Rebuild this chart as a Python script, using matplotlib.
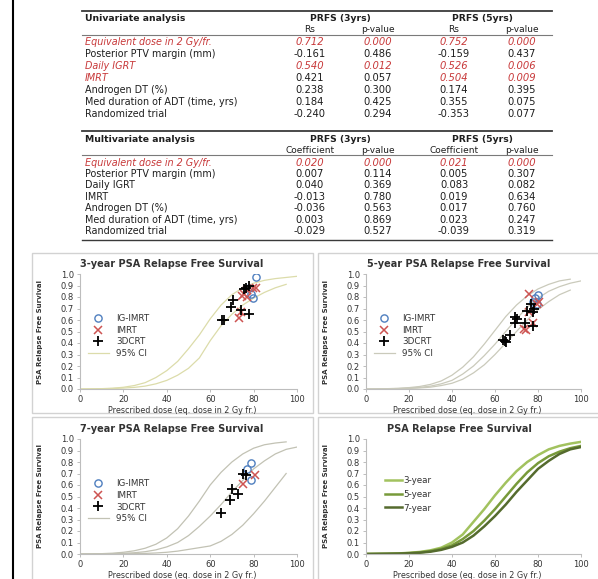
import matplotlib
matplotlib.use("Agg")
import matplotlib.pyplot as plt
from matplotlib.lines import Line2D
from matplotlib.patches import Rectangle

W, H = 598, 579

## table data
row_labels = ["Equivalent dose in 2 Gy/fr.", "Posterior PTV margin (mm)", "Daily IGRT", "IMRT",
              "Androgen DT (%)", "Med duration of ADT (time, yrs)", "Randomized trial"]
uni_rs3 = ["0.712", "-0.161", "0.540", "0.421", "0.238", "0.184", "-0.240"]
uni_p3 = ["0.000", "0.486", "0.012", "0.057", "0.300", "0.425", "0.294"]
uni_rs5 = ["0.752", "-0.159", "0.526", "0.504", "0.174", "0.355", "-0.353"]
uni_p5 = ["0.000", "0.437", "0.006", "0.009", "0.395", "0.075", "0.077"]
uni_sig3 = [1, 0, 1, 0, 0, 0, 0]
uni_sig5 = [1, 0, 1, 1, 0, 0, 0]

multi_c3 = ["0.020", "0.007", "0.040", "-0.013", "-0.036", "0.003", "-0.029"]
multi_p3 = ["0.000", "0.114", "0.369", "0.780", "0.563", "0.869", "0.527"]
multi_c5 = ["0.021", "0.005", "0.083", "0.019", "0.017", "0.023", "-0.039"]
multi_p5 = ["0.000", "0.307", "0.082", "0.634", "0.760", "0.247", "0.319"]
multi_sig3 = [1, 0, 0, 0, 0, 0, 0]
multi_sig5 = [1, 0, 0, 0, 0, 0, 0]

## curve data
dose = [0, 5, 10, 15, 20, 25, 30, 35, 40, 45, 50, 55, 60, 65, 70, 75, 80, 85, 90, 95, 100]
fit3 = [0.0, 0.001, 0.002, 0.005, 0.010, 0.018, 0.032, 0.055, 0.10, 0.17, 0.28, 0.39, 0.51,
        0.62, 0.72, 0.80, 0.86, 0.91, 0.94, 0.96, 0.975]
fit5 = [0.0, 0.001, 0.002, 0.004, 0.008, 0.014, 0.025, 0.045, 0.075, 0.13, 0.20, 0.29, 0.39,
        0.50, 0.61, 0.71, 0.79, 0.85, 0.89, 0.92, 0.94]
fit7 = [0.0, 0.001, 0.002, 0.003, 0.006, 0.011, 0.020, 0.036, 0.062, 0.10, 0.16, 0.24, 0.33,
        0.43, 0.54, 0.64, 0.74, 0.81, 0.87, 0.91, 0.93]
hi3 = [0.0, 0.001, 0.003, 0.007, 0.015, 0.030, 0.055, 0.10, 0.16, 0.24, 0.35, 0.47, 0.61,
       0.73, 0.82, 0.88, 0.92, 0.945, 0.96, 0.97, 0.98]
lo3 = [0.0, 0.001, 0.002, 0.004, 0.008, 0.014, 0.025, 0.045, 0.075, 0.12, 0.18, 0.27, 0.42,
       0.55, 0.65, 0.73, 0.79, 0.84, 0.88, 0.91]
hi5 = [0.0, 0.001, 0.003, 0.006, 0.012, 0.022, 0.040, 0.070, 0.12, 0.19, 0.28, 0.39, 0.51,
       0.63, 0.73, 0.81, 0.87, 0.91, 0.94, 0.955]
lo5 = [0.0, 0.0, 0.001, 0.002, 0.005, 0.009, 0.016, 0.030, 0.050, 0.085, 0.14, 0.21, 0.30,
       0.40, 0.50, 0.60, 0.69, 0.76, 0.82, 0.86]
hi7 = [0.0, 0.001, 0.003, 0.007, 0.015, 0.028, 0.05, 0.085, 0.14, 0.22, 0.33, 0.46, 0.60,
       0.71, 0.80, 0.87, 0.92, 0.95, 0.965, 0.975]
lo7 = [0.0, 0.0, 0.0, 0.001, 0.002, 0.003, 0.005, 0.009, 0.015, 0.025, 0.04, 0.055, 0.07,
       0.11, 0.17, 0.25, 0.35, 0.46, 0.58, 0.70]

## scatter data: (dose, PRFS)
ig3_x = [81, 78, 79, 79.5]
ig3_y = [0.97, 0.88, 0.83, 0.79]
im3_x = [74.5, 75.5, 77, 79.5, 81, 74, 73.5, 77]
im3_y = [0.81, 0.83, 0.86, 0.88, 0.88, 0.67, 0.62, 0.80]
cr3_x = [78, 76.5, 75.5, 70.5, 69.5, 74, 78, 66.5, 65.5]
cr3_y = [0.90, 0.88, 0.87, 0.77, 0.71, 0.69, 0.65, 0.60, 0.60]

ig5_x = [80, 78.5, 77.5, 79.5]
ig5_y = [0.82, 0.79, 0.76, 0.74]
im5_x = [75.8, 80.6, 79.4, 75.8, 77.7, 74.2, 73.4]
im5_y = [0.83, 0.76, 0.74, 0.67, 0.57, 0.51, 0.52]
cr5_x = [76.6, 78.2, 75, 77.6, 69.4, 70.2, 69.4, 73.9, 77.6, 66.9, 63.5, 65.3, 64.5]
cr5_y = [0.74, 0.70, 0.675, 0.67, 0.63, 0.61, 0.57, 0.57, 0.55, 0.47, 0.43, 0.41, 0.42]

ig7_x = [79, 77, 79]
ig7_y = [0.79, 0.74, 0.64]
im7_x = [80.5, 75]
im7_y = [0.69, 0.61]
cr7_x = [75, 76.5, 70, 73, 69, 65]
cr7_y = [0.70, 0.69, 0.565, 0.52, 0.47, 0.355]

RED = '#c8393a'
DARK = '#1e1e1e'

fig = plt.figure(figsize=(W / 100, H / 100), dpi=100)


def fx(x):
    return x / W


def fy(y):
    return 1 - y / H


def hline(y, x0, x1, lw, color):
    fig.add_artist(Line2D([fx(x0), fx(x1)], [fy(y), fy(y)], lw=lw, color=color))


# left border line
fig.add_artist(Line2D([fx(12.5), fx(12.5)], [0, 1], lw=1.5, color='black'))

cols = [310, 378, 454, 522]


def draw_table(top, title, subs, values, sig3, sig5, head_y, sub_y, sep_y, row0, dy, bottom=None):
    hline(top, 82, 552, 1.3, '#3a3a3a')
    fig.text(fx(85), fy(head_y), title, fontsize=6.7, weight='bold', va='center', color=DARK)
    fig.text(fx(340), fy(head_y), "PRFS (3yrs)", fontsize=6.7, weight='bold', va='center', ha='center', color=DARK)
    fig.text(fx(482), fy(head_y), "PRFS (5yrs)", fontsize=6.7, weight='bold', va='center', ha='center', color=DARK)
    for cx, s in zip(cols, subs):
        fig.text(fx(cx), fy(sub_y), s, fontsize=6.5, va='center', ha='center', color=DARK)
    hline(sep_y, 82, 552, 0.8, '#7a7a7a')
    for i, lab in enumerate(row_labels):
        y = fy(row0 + i * dy)
        red = sig3[i] or sig5[i]
        fig.text(fx(85), y, lab, fontsize=6.9, va='center', color=RED if red else DARK,
                 style='italic' if red else 'normal')
        for j, cx in enumerate(cols):
            s = sig3[i] if j < 2 else sig5[i]
            fig.text(fx(cx), y, values[j][i], fontsize=7.2, va='center', ha='center',
                     color=RED if s else DARK, style='italic' if s else 'normal')
    if bottom is not None:
        hline(bottom, 82, 552, 1.0, '#3a3a3a')


draw_table(10.5, "Univariate analysis", ["Rs", "p-value", "Rs", "p-value"],
           [uni_rs3, uni_p3, uni_rs5, uni_p5], uni_sig3, uni_sig5,
           18.5, 30, 34.5, 42, 11.93)
draw_table(130.5, "Multivariate analysis", ["Coefficient", "p-value", "Coefficient", "p-value"],
           [multi_c3, multi_p3, multi_c5, multi_p5], multi_sig3, multi_sig5,
           139.5, 150.5, 155.5, 162.5, 11.45, bottom=240)

# panel frames
for (x0, y0, x1, y1) in [(32, 253, 313, 413), (318, 253, 600, 413),
                         (32, 417, 313, 582), (318, 417, 600, 582)]:
    fig.add_artist(Rectangle((fx(x0), fy(y1)), fx(x1 - x0), (y1 - y0) / H,
                             facecolor='white', edgecolor='#d2d2d2', lw=1.0, zorder=0))

boxes = [(80, 297, 274, 389), (366, 581, 274, 389), (80, 297, 439, 554), (366, 581, 439, 554)]
titles = ["3-year PSA Relapse Free Survival", "5-year PSA Relapse Free Survival",
          "7-year PSA Relapse Free Survival", "PSA Relapse Free Survival"]
title_pos = [(172, 264), (459, 264), (172, 429), (459, 429)]

axes = []
for (x0, x1, yt, yb), t, (tx, ty) in zip(boxes, titles, title_pos):
    ax = fig.add_axes([fx(x0), fy(yb), (x1 - x0) / W, (yb - yt) / H])
    ax.patch.set_visible(False)
    ax.set_xlim(0, 100)
    ax.set_ylim(0, 1.0)
    ax.set_xticks([0, 20, 40, 60, 80, 100])
    ax.set_yticks([i / 10 for i in range(11)])
    ax.set_yticklabels(["%.1f" % (i / 10) for i in range(11)])
    for sp in ['top', 'right']:
        ax.spines[sp].set_visible(False)
    for sp in ['left', 'bottom']:
        ax.spines[sp].set_color('#bdbdbd')
        ax.spines[sp].set_linewidth(0.8)
    ax.tick_params(labelsize=6, colors='#bdbdbd', labelcolor='#333333', length=2.5, width=0.7, pad=2)
    ax.set_xlabel("Prescribed dose (eq. dose in 2 Gy fr.)", fontsize=5.8, color='#333333')
    ax.xaxis.set_label_coords(0.47, -0.15)
    ax.set_ylabel("PSA Relapse Free Survival", fontsize=5, color='#333333', weight='bold',
                  family=['Liberation Sans Narrow', 'DejaVu Sans'])
    ax.yaxis.set_label_coords(-0.17, 0.5)
    fig.text(fx(tx), fy(ty), t, fontsize=7, weight='bold', ha='center', va='center', color='#333333')
    axes.append(ax)

point_sets = [
    (ig3_x, ig3_y, im3_x, im3_y, cr3_x, cr3_y),
    (ig5_x, ig5_y, im5_x, im5_y, cr5_x, cr5_y),
    (ig7_x, ig7_y, im7_x, im7_y, cr7_x, cr7_y),
]
ci_sets = [
    ([(hi3, dose), (lo3, dose[:20])], '#dcdcaa'),
    ([(hi5, dose[:20]), (fit5, dose), (lo5, dose[:20])], '#cacabb'),
    ([(hi7, dose[:20]), (fit7, dose), (lo7, dose[:20])], '#c2c2b4'),
]

for ax, pts, (curves, ccol) in zip(axes[:3], point_sets, ci_sets):
    ci_handle = None
    for yv, xv in curves:
        ln, = ax.plot(xv, yv, color=ccol, lw=0.9)
        ci_handle = ci_handle or ln
    igx, igy, imx, imy, crx, cry = pts
    h1, = ax.plot(igx, igy, 'o', ms=5.2, mfc='none', mec='#4f7fbf', mew=1.0, ls='none')
    h2, = ax.plot(imx, imy, 'x', ms=5.2, mec='#cd5452', mew=1.1, ls='none')
    h3, = ax.plot(crx, cry, '+', ms=6.5, mec='black', mew=1.3, ls='none')
    ax.legend([h1, h2, h3, ci_handle], ['IG-IMRT', 'IMRT', '3DCRT', '95% CI'],
              loc='center left', bbox_to_anchor=(0.035, 0.46), frameon=False, fontsize=6.3,
              handlelength=2.4, handletextpad=0.9, labelspacing=0.32, borderpad=0,
              borderaxespad=0, labelcolor='#333333')

ax = axes[3]
l3, = ax.plot(dose, fit3, color='#a2c25f', lw=1.8)
l5, = ax.plot(dose, fit5, color='#789a3a', lw=1.8)
l7, = ax.plot(dose, fit7, color='#556b2e', lw=1.8)
ax.legend([l3, l5, l7], ['3-year', '5-year', '7-year'], loc='center left',
          bbox_to_anchor=(0.088, 0.52), frameon=False, fontsize=6.3, handlelength=2.0,
          handletextpad=0.1, labelspacing=0.55, borderpad=0, borderaxespad=0,
          labelcolor='#333333')

fig.savefig("out.png", dpi=100)
